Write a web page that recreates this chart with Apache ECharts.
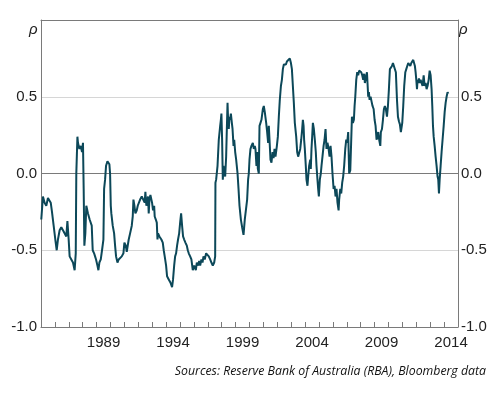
<!DOCTYPE html>
<html>
<head>
<meta charset="utf-8">
<script src="https://cdn.jsdelivr.net/npm/echarts@6/dist/echarts.min.js"></script>
<style>
html,body{margin:0;padding:0;background:#fff;}
#c{width:500px;height:393px;}
</style>
</head>
<body>
<div id="c"></div>
<script>
// Decimal year of each observation
const years = [
1985.02,1985.14,1985.26,1985.38,1985.50,1985.62,1985.70,1985.79,1985.91,1986.03,1986.13,1986.22,1986.34,1986.46,1986.58,1986.70,1986.82,1986.90,1986.99,1987.06,1987.18,1987.30,1987.42,1987.50,1987.54,1987.62,1987.66,1987.76,1987.86,1987.95,1988.02,1988.07,1988.12,1988.19,1988.26,1988.38,1988.50,
1988.65,1988.72,1988.82,1988.89,1988.96,1989.06,1989.13,1989.20,1989.30,1989.39,1989.49,1989.54,1989.61,1989.68,1989.78,1989.85,1989.92,1989.97,1990.02,1990.06,1990.16,1990.26,1990.33,1990.40,1990.50,1990.59,1990.69,1990.81,1990.93,1991.00,1991.10,1991.17,1991.24,1991.31,1991.41,1991.53,1991.60,1991.65,1991.72,1991.79,1991.89,1991.96,1992.06,1992.13,1992.25,
1992.39,1992.46,1992.51,1992.58,1992.63,1992.70,1992.75,1992.80,1992.87,1992.94,1992.99,1993.06,1993.14,1993.18,1993.26,1993.33,1993.38,1993.42,1993.52,1993.59,1993.66,1993.76,1993.83,1993.90,1994.00,1994.07,1994.19,1994.31,1994.43,1994.50,1994.58,1994.65,1994.72,1994.79,1994.86,1994.94,1995.01,1995.08,1995.15,1995.22,1995.30,1995.39,1995.49,1995.56,1995.63,1995.73,1995.82,1995.92,
1996.02,1996.14,1996.21,1996.30,1996.38,1996.45,1996.54,1996.62,1996.69,1996.78,1996.88,1996.98,1997.07,1997.17,1997.26,1997.36,1997.46,1997.53,1997.55,1997.60,1997.70,1997.79,1997.89,1997.94,1997.98,1998.03,1998.08,1998.13,1998.18,1998.25,1998.32,1998.37,1998.42,1998.46,1998.51,1998.56,1998.61,1998.66,1998.73,1998.78,1998.85,1998.90,1998.97,1999.04,1999.14,1999.21,1999.28,1999.38,1999.47,1999.57,1999.66,
1999.83,1999.90,1999.95,2000.00,2000.07,2000.14,2000.24,2000.31,2000.38,2000.43,2000.50,2000.55,2000.60,2000.67,2000.72,2000.79,2000.86,2000.96,2001.03,2001.10,2001.20,2001.27,2001.34,2001.39,2001.44,2001.51,2001.58,2001.66,2001.73,2001.80,2001.87,2001.97,2002.04,2002.11,2002.18,2002.26,2002.33,2002.40,2002.47,2002.54,2002.62,2002.69,2002.76,2002.83,2002.90,2002.98,2003.05,2003.12,2003.19,2003.26,2003.36,2003.43,
2003.50,2003.58,2003.65,2003.72,2003.79,2003.84,2003.89,2003.93,2003.98,2004.05,2004.10,2004.17,2004.22,2004.29,2004.37,2004.41,2004.46,2004.51,2004.56,2004.63,2004.70,2004.77,2004.82,2004.89,2004.94,2004.99,2005.06,2005.13,2005.18,2005.25,2005.33,2005.40,2005.47,2005.54,2005.61,2005.69,2005.76,2005.83,2005.90,2005.97,2006.05,2006.12,2006.19,2006.26,2006.33,2006.41,2006.45,2006.53,2006.60,2006.67,2006.74,2006.81,2006.89,2006.96,2007.03,2007.10,2007.17,
2007.25,2007.37,2007.44,2007.51,2007.56,2007.61,2007.68,2007.75,2007.82,2007.89,2007.97,2008.04,2008.11,2008.18,2008.25,2008.30,2008.37,2008.45,2008.49,2008.54,2008.59,2008.64,2008.71,2008.78,2008.85,2008.93,2009.00,2009.07,2009.14,2009.19,2009.26,2009.33,2009.41,2009.45,2009.53,2009.60,2009.67,2009.74,2009.81,2009.89,2009.96,2010.03,2010.10,2010.17,2010.25,2010.32,2010.39,2010.46,2010.53,2010.61,2010.68,2010.75,2010.82,2010.89,
2010.99,2011.06,2011.13,2011.21,2011.28,2011.35,2011.42,2011.49,2011.57,2011.64,2011.71,2011.78,2011.85,2011.90,2011.95,2012.00,2012.05,2012.09,2012.14,2012.19,2012.24,2012.31,2012.38,2012.45,2012.53,2012.60,2012.67,2012.74,2012.81,2012.89,2012.96,2013.03,2013.10,2013.15,2013.20,2013.25,2013.32,2013.39,2013.46,2013.53,2013.58,2013.63,2013.68,2013.75,2013.82,2013.89,2013.97,2014.04,2014.11,2014.18,2014.25,2014.30
];
// Correlation coefficient (rho)
const rho = [
-0.30,-0.15,-0.19,-0.21,-0.16,-0.15,-0.19,-0.25,-0.34,-0.43,-0.50,-0.43,-0.37,-0.35,-0.37,-0.38,-0.41,-0.31,-0.43,-0.54,-0.56,-0.58,-0.63,-0.52,0.00,0.24,0.20,0.16,0.18,0.14,0.20,-0.10,-0.47,-0.39,-0.21,-0.26,-0.30,
-0.34,-0.50,-0.52,-0.54,-0.56,-0.60,-0.63,-0.58,-0.56,-0.50,-0.43,-0.10,-0.04,0.05,0.08,0.07,0.06,0.00,-0.21,-0.26,-0.34,-0.39,-0.47,-0.54,-0.58,-0.56,-0.57,-0.54,-0.52,-0.45,-0.47,-0.51,-0.47,-0.43,-0.39,-0.34,-0.28,-0.17,-0.21,-0.26,-0.24,-0.21,-0.21,-0.17,-0.15,
-0.15,-0.19,-0.12,-0.21,-0.19,-0.15,-0.26,-0.17,-0.14,-0.15,-0.19,-0.24,-0.21,-0.28,-0.30,-0.32,-0.43,-0.39,-0.41,-0.40,-0.43,-0.45,-0.50,-0.54,-0.60,-0.67,-0.69,-0.71,-0.74,-0.69,-0.60,-0.54,-0.52,-0.47,-0.43,-0.39,-0.32,-0.26,-0.34,-0.41,-0.43,-0.45,-0.47,-0.50,-0.52,-0.54,-0.56,-0.63,
-0.60,-0.63,-0.58,-0.60,-0.57,-0.60,-0.56,-0.58,-0.54,-0.56,-0.52,-0.51,-0.54,-0.56,-0.58,-0.60,-0.58,-0.54,-0.06,-0.04,0.05,0.22,0.31,0.35,0.39,0.22,-0.04,0.05,0.00,-0.02,0.11,0.29,0.46,0.35,0.29,0.37,0.35,0.39,0.33,0.29,0.18,0.22,0.14,0.09,0.00,-0.10,-0.21,-0.30,-0.35,-0.40,-0.30,
-0.17,-0.04,0.00,0.09,0.16,0.18,0.20,0.16,0.18,0.16,0.05,0.14,0.03,0.00,0.31,0.33,0.35,0.42,0.44,0.40,0.33,0.27,0.20,0.31,0.22,0.09,0.07,0.14,0.10,0.16,0.11,0.18,0.24,0.37,0.48,0.57,0.61,0.68,0.71,0.72,0.71,0.73,0.72,0.74,0.75,0.72,0.68,0.57,0.46,0.33,0.24,0.14,
0.11,0.12,0.16,0.22,0.29,0.35,0.31,0.22,0.16,0.05,-0.04,-0.08,-0.02,0.05,0.09,0.03,0.16,0.24,0.33,0.29,0.22,0.14,0.05,-0.04,-0.10,-0.15,-0.04,0.00,0.05,0.11,0.18,0.22,0.29,0.16,0.20,0.16,0.11,0.18,0.11,0.00,-0.10,-0.08,-0.15,-0.10,-0.19,-0.24,-0.17,-0.10,-0.13,-0.06,-0.02,0.05,0.16,0.22,0.20,0.27,0.00,
0.02,0.37,0.33,0.35,0.44,0.50,0.61,0.66,0.64,0.67,0.68,0.66,0.64,0.61,0.65,0.59,0.60,0.66,0.59,0.50,0.53,0.48,0.50,0.47,0.44,0.42,0.35,0.31,0.22,0.24,0.27,0.22,0.18,0.27,0.29,0.35,0.42,0.44,0.42,0.37,0.44,0.55,0.68,0.69,0.70,0.72,0.73,0.72,0.66,0.48,0.37,0.34,0.32,0.27,
0.33,0.44,0.57,0.66,0.68,0.70,0.72,0.71,0.70,0.72,0.73,0.74,0.73,0.70,0.66,0.61,0.55,0.61,0.59,0.62,0.59,0.61,0.60,0.57,0.64,0.57,0.59,0.55,0.57,0.61,0.67,0.64,0.55,0.44,0.31,0.24,0.18,0.11,0.05,-0.02,-0.04,-0.13,-0.04,0.05,0.14,0.22,0.31,0.40,0.46,0.50,0.53,0.52
];
const xMin = 1985, xMax = 2015, xTickStep = 1;
const labelYears = [1989, 1994, 1999, 2004, 2009, 2014];
const yMin = -1, yMax = 1, yStep = 0.5;
const unitLabel = 'ρ';
const sourceText = 'Sources: Reserve Bank of Australia (RBA), Bloomberg data';

const chart = echarts.init(document.getElementById('c'));
const FONT = '"Liberation Sans", Arial, sans-serif';
const axisGray = '#7a7a7a';
const labelStyle = {color: '#222', fontSize: 15, fontFamily: FONT};

const yCommon = {
  type: 'value', min: yMin, max: yMax, interval: yStep, gridIndex: 0,
  axisLine: {show: true, lineStyle: {color: axisGray, width: 1}},
  axisTick: {show: false},
  axisLabel: Object.assign({}, labelStyle, {
    formatter: v => (v >= yMax - 1e-9 ? '' : v.toFixed(1))
  })
};

const gridLeft = 41, gridRight = 42, gridTop = 20, gridBottom = 66, tickLen = 5;
const plotWidth = 500 - gridLeft - gridRight;
const yearPx = plotWidth / (xMax - xMin);

chart.setOption({
  animation: false,
  grid: [
    {left: gridLeft, right: gridRight, top: gridTop, bottom: gridBottom},
    // thin strip along the bottom edge: its vertical split lines form the yearly ticks
    {left: gridLeft, right: gridRight, bottom: gridBottom, height: tickLen}
  ],
  xAxis: [
    {
      gridIndex: 0,
      type: 'value', min: xMin, max: xMax, interval: xTickStep, position: 'bottom',
      axisLine: {show: true, onZero: false, lineStyle: {color: axisGray, width: 1}},
      axisTick: {show: false},
      axisLabel: Object.assign({}, labelStyle, {
        margin: 8,
        padding: [0, 0, 0, yearPx],
        formatter: v => (labelYears.indexOf(Math.round(v)) >= 0 ? String(Math.round(v)) : '')
      }),
      splitLine: {show: false}
    },
    {
      gridIndex: 0,
      type: 'value', min: xMin, max: xMax, position: 'top',
      axisLine: {show: true, onZero: false, lineStyle: {color: axisGray, width: 1}},
      axisTick: {show: false}, axisLabel: {show: false}, splitLine: {show: false}
    },
    {
      gridIndex: 1,
      type: 'value', min: xMin, max: xMax, interval: xTickStep,
      axisLine: {show: false}, axisTick: {show: false}, axisLabel: {show: false},
      splitLine: {show: true, lineStyle: {color: axisGray, width: 1}}
    }
  ],
  yAxis: [
    Object.assign({}, yCommon, {
      position: 'left',
      axisLabel: Object.assign({}, yCommon.axisLabel, {margin: 4}),
      splitLine: {show: true, lineStyle: {color: [axisGray, '#d6d6d6'], width: 1}}
    }),
    Object.assign({}, yCommon, {
      position: 'right',
      axisLabel: Object.assign({}, yCommon.axisLabel, {margin: 3}),
      splitLine: {show: false}
    }),
    {
      gridIndex: 1, type: 'value', min: 0, max: 1, show: false,
      axisLine: {show: false}, axisTick: {show: false}, axisLabel: {show: false}, splitLine: {show: false}
    }
  ],
  series: [{
    type: 'line',
    xAxisIndex: 0, yAxisIndex: 0,
    data: years.map((y, i) => [y, rho[i]]),
    showSymbol: false,
    symbol: 'none',
    lineStyle: {color: '#0c4859', width: 2},
    z: 5
  }],
  graphic: [
    {type: 'text', left: 29, top: 22, style: {text: unitLabel, font: 'italic 15px ' + FONT, fill: '#222'}},
    {type: 'text', left: 459, top: 22, style: {text: unitLabel, font: 'italic 15px ' + FONT, fill: '#222'}},
    {type: 'text', right: 14, top: 365, style: {text: sourceText, font: 'italic 12.3px "Open Sans", sans-serif', fill: '#111'}}
  ]
});
</script>
</body>
</html>
